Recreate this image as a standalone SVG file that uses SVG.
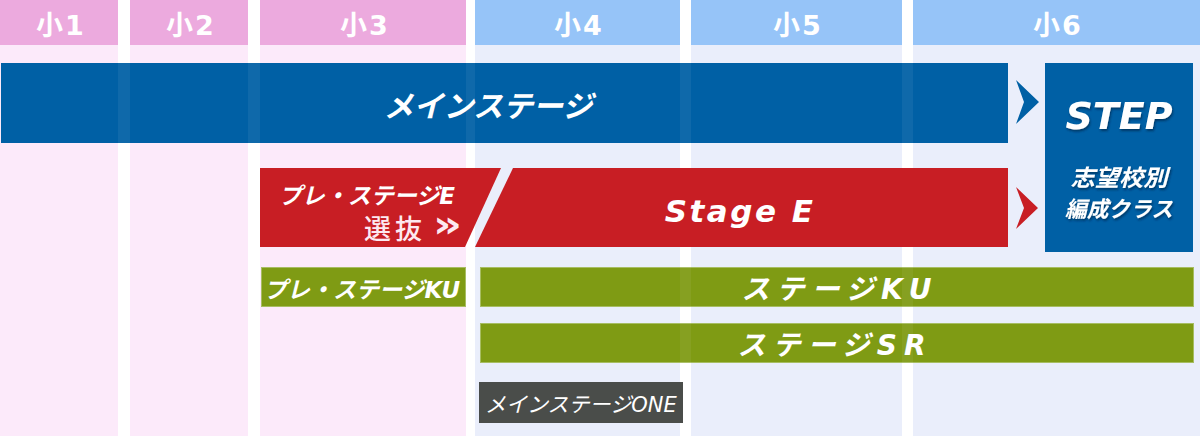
<svg xmlns="http://www.w3.org/2000/svg" width="1200" height="436" viewBox="0 0 1200 436">
  <defs>
    <style>
      .bgp { fill: #fceafa; }
      .bgb { fill: #eaeefb; }
      .hdp { fill: #ecaade; }
      .hdb { fill: #96c4f8; }
      .gap { fill: #ffffff; }
      .hd { font-family: "DejaVu Sans", "Noto Sans CJK JP", sans-serif; font-weight: bold; font-size: 27px; fill: #ffffff; text-anchor: middle; letter-spacing: 2px; }
      .blue { fill: #0060a5; }
      .red { fill: #c81e24; }
      .green { fill: #7f9b14; stroke: #a7bd62; stroke-width: 1; }
      .gray { fill: #4a4d4a; }
      .jb { font-family: "DejaVu Sans", "Noto Sans CJK JP", sans-serif; font-weight: bold; font-style: italic; fill: #ffffff; }
      .jn { font-family: "DejaVu Sans", "Noto Sans CJK JP", sans-serif; font-weight: normal; font-style: italic; fill: #ffffff; }
      .sel { font-family: "Noto Sans CJK JP", sans-serif; font-weight: 500; fill: #fde9f1; }
      .shadow { filter: url(#sh); }
    </style>
    <filter id="sh" x="-10%" y="-20%" width="120%" height="150%">
      <feDropShadow dx="1" dy="2" stdDeviation="1.2" flood-color="#00203a" flood-opacity="0.6"/>
    </filter>
  </defs>

  <!-- background columns -->
  <g id="columns">
    <rect x="0" y="0" width="1200" height="436" class="gap"/>
    <rect x="0" y="0" width="118" height="436" class="bgp"/>
    <rect x="130" y="0" width="118" height="436" class="bgp"/>
    <rect x="260" y="0" width="206" height="436" class="bgp"/>
    <rect x="475" y="0" width="205" height="436" class="bgb"/>
    <rect x="691" y="0" width="211" height="436" class="bgb"/>
    <rect x="913" y="0" width="287" height="436" class="bgb"/>
    <rect x="0" y="0" width="118" height="45" class="hdp"/>
    <rect x="130" y="0" width="118" height="45" class="hdp"/>
    <rect x="260" y="0" width="206" height="45" class="hdp"/>
    <rect x="475" y="0" width="205" height="45" class="hdb"/>
    <rect x="691" y="0" width="211" height="45" class="hdb"/>
    <rect x="913" y="0" width="287" height="45" class="hdb"/>
    <text x="61" y="35" class="hd">小1</text>
    <text x="191" y="35" class="hd">小2</text>
    <text x="365" y="35" class="hd">小3</text>
    <text x="579" y="35" class="hd">小4</text>
    <text x="798" y="35" class="hd">小5</text>
    <text x="1058" y="35" class="hd">小6</text>
  </g>

  <g id="main-stage">
    <rect x="1" y="63" width="1007" height="80" class="blue"/>
    <text x="488" y="117" class="jb" font-size="30" text-anchor="middle">メインステージ</text>
  </g>

  <g id="pre-stage-ku">
    <rect x="261.5" y="267.5" width="204" height="39" class="green"/>
    <text x="362" y="298" class="jb" font-size="23" text-anchor="middle">プレ・ステージKU</text>
  </g>

  <g id="stage-ku">
    <rect x="480.5" y="267.5" width="713" height="39" class="green"/>
    <text x="840" y="299" class="jb" font-size="28" text-anchor="middle" letter-spacing="7">ステージKU</text>
  </g>

  <g id="stage-sr">
    <rect x="480.5" y="323.5" width="713" height="39" class="green"/>
    <text x="835" y="355" class="jb" font-size="28" text-anchor="middle" letter-spacing="7">ステージSR</text>
  </g>

  <!-- faint column gaps showing through bars -->
  <g id="gap-overlay" fill="#ffffff" opacity="0.06">
    <rect x="118" y="63" width="12" height="80"/>
    <rect x="248" y="63" width="12" height="80"/>
    <rect x="466" y="63" width="9" height="80"/>
    <rect x="680" y="63" width="11" height="80"/>
    <rect x="902" y="63" width="11" height="80"/>
    <rect x="680" y="267" width="11" height="96"/>
    <rect x="902" y="267" width="11" height="96"/>
  </g>

  <g id="pre-stage-e">
    <polygon points="260,168 501,168 465,247 260,247" class="red"/>
    <text x="455" y="204" class="jb" font-size="23" text-anchor="end">プレ・ステージE</text>
    <text x="364" y="239" class="sel" font-size="27" letter-spacing="4">選抜</text>
    <text x="433" y="237" font-family="DejaVu Sans, sans-serif" font-weight="bold" font-size="38" fill="#fde9f1" textLength="29" lengthAdjust="spacingAndGlyphs">»</text>
  </g>

  <g id="stage-e">
    <polygon points="513,168 1008,168 1008,247 475,247" class="red"/>
    <text x="740" y="222" font-family="DejaVu Sans, sans-serif" font-weight="bold" font-style="italic" font-size="31" letter-spacing="2.5" fill="#ffffff" text-anchor="middle">Stage E</text>
  </g>

  <g id="step">
    <rect x="1045" y="63" width="148" height="189" class="blue"/>
    <text x="1119" y="129" class="jb shadow" font-size="38" text-anchor="middle">STEP</text>
    <text x="1119" y="186" class="jb shadow" font-size="23" text-anchor="middle" textLength="97" lengthAdjust="spacingAndGlyphs">志望校別</text>
    <text x="1119" y="217" class="jb shadow" font-size="22" text-anchor="middle" textLength="108" lengthAdjust="spacingAndGlyphs">編成クラス</text>
  </g>

  <g id="main-stage-one">
    <rect x="479" y="382" width="204" height="41" class="gray"/>
    <text x="485" y="412" class="jn" font-size="21">メインステージONE</text>
  </g>

  <g id="connectors">
    <polygon points="1016,80 1039,102 1016,124 1024,102" class="blue"/>
    <polygon points="1016,187 1038,208 1016,229 1024,208" class="red"/>
  </g>
</svg>
